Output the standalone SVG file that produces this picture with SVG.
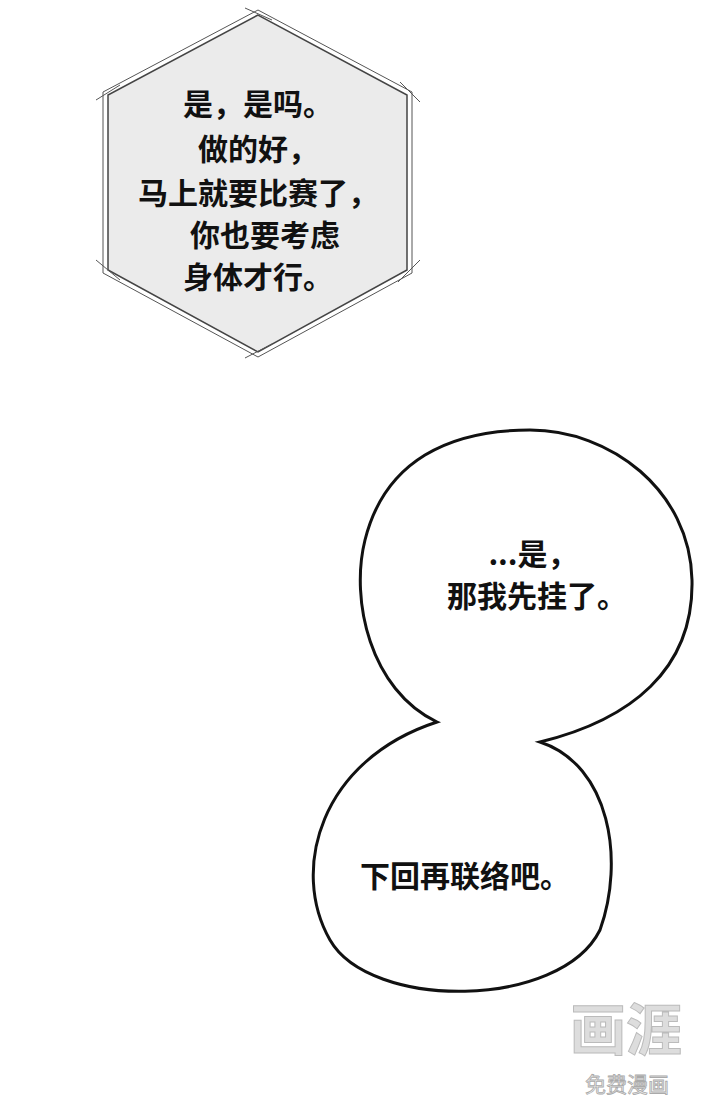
<svg xmlns="http://www.w3.org/2000/svg" width="720" height="1101" viewBox="0 0 720 1101">
<style>
.t{font-family:"Noto Sans CJK SC","Noto Sans",sans-serif;font-size:30px;fill:#111;text-anchor:middle;font-weight:700}
.hx{fill:none;stroke:#555;stroke-width:1}
</style>
<rect width="720" height="1101" fill="#fff"/>
<g id="hexagon">
<polygon points="258,15 108,95 108,270 258,352 407,270 407,95" fill="#ebebeb" stroke="#444" stroke-width="1.5"/>
<polygon class="hx" points="258,10 103,92 103,273 258,357 412,273 412,92"/>
<line class="hx" x1="245" y1="8" x2="272" y2="20"/>
<line class="hx" x1="96" y1="100" x2="120" y2="85"/>
<line class="hx" x1="400" y1="82" x2="420" y2="102"/>
<line class="hx" x1="96" y1="260" x2="120" y2="280"/>
<line class="hx" x1="398" y1="282" x2="420" y2="260"/>
<line class="hx" x1="245" y1="358" x2="272" y2="344"/>
<text class="t" x="258" y="115">是，是吗。</text>
<text class="t" x="258" y="160">做的好，</text>
<text class="t" x="258" y="204">马上就要比赛了，</text>
<text class="t" x="265" y="246">你也要考虑</text>
<text class="t" x="258" y="288">身体才行。</text>
</g>
<g id="bubble">
<path d="M437,722 C 370,690 350,600 365,540 C 385,460 450,430 530,430 C 610,430 690,490 692,580 C 694,670 630,720 540,742 C 610,765 625,860 600,930 C 560,1010 370,1010 330,940 C 290,870 320,760 437,722 Z" fill="#fff" stroke="#111" stroke-width="3"/>
<text class="t" x="533" y="565">...是，</text>
<text class="t" x="537" y="607">那我先挂了。</text>
<text class="t" x="465" y="887">下回再联络吧。</text>
</g>
<g id="watermark" font-family="Noto Sans CJK SC,sans-serif" text-anchor="middle">
<text x="626" y="1050" font-size="56" font-weight="700" fill="#ddd" stroke="#bbb" stroke-width="1">画涯</text>
<text x="627" y="1092" font-size="21" fill="#eee" stroke="#aaa" stroke-width="0.8">免费漫画</text>
</g>
</svg>
